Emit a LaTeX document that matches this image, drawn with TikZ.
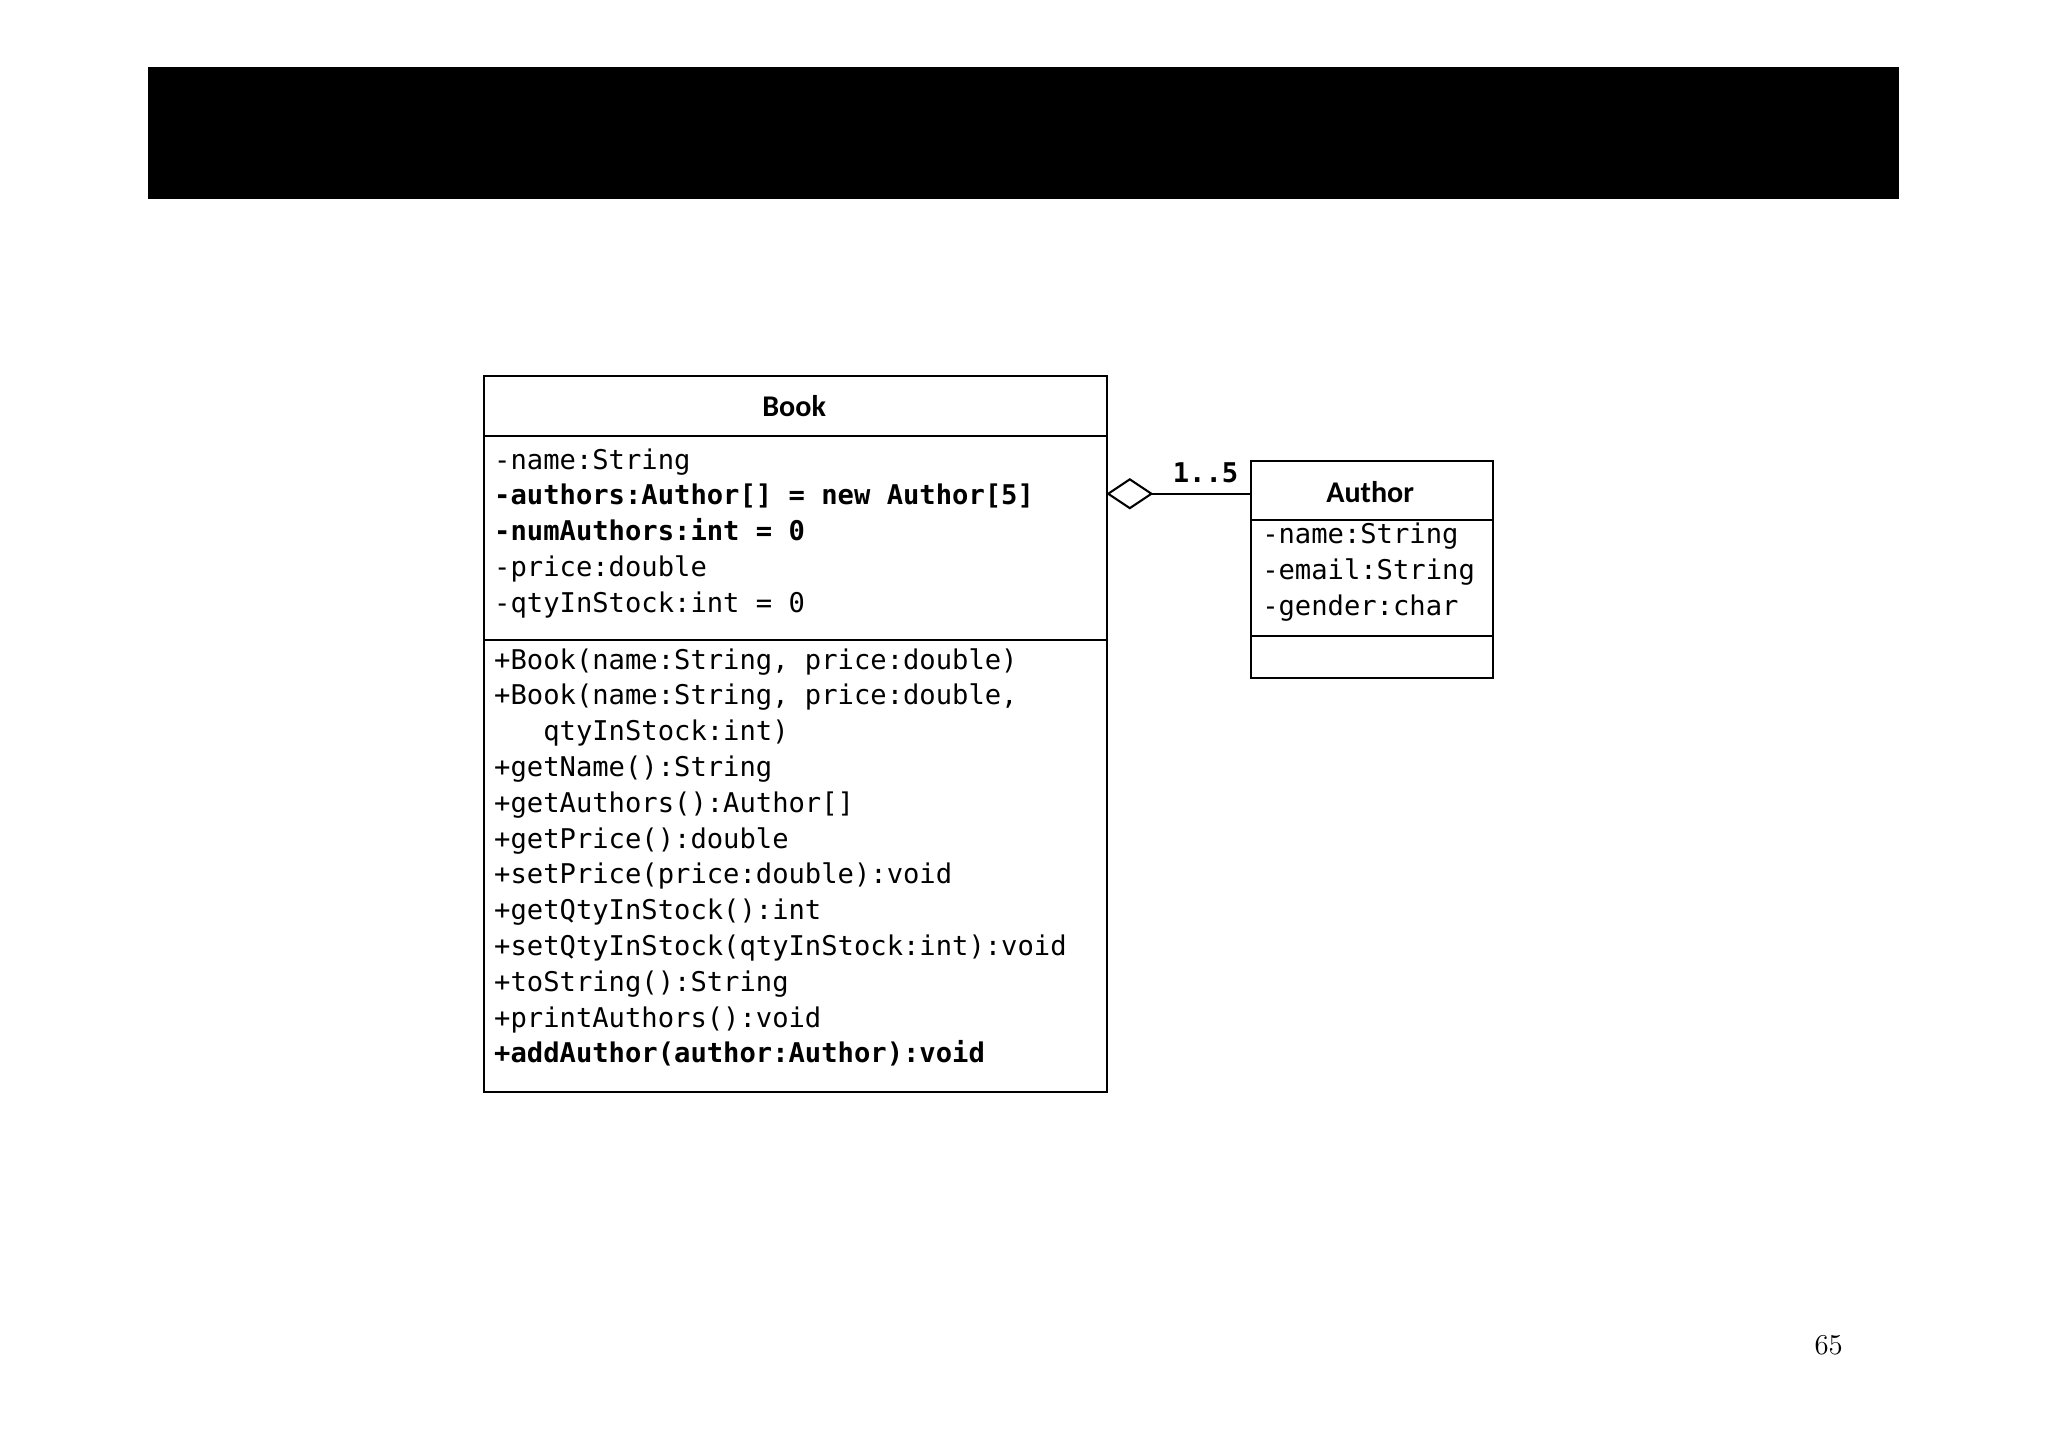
\documentclass[tikz,border=0pt]{standalone}
\usepackage{fontspec}
\setmonofont{DejaVu Sans Mono}
\newfontfamily\titlefont{Carlito}
\usetikzlibrary{arrows.meta,positioning}
\tikzset{
    class-box/.style = {draw=black, thick, rectangle, inner sep=0pt, anchor=north west},
    class-title/.style = {font=\titlefont\bfseries\fontsize{11.5}{13}\selectfont},
    member-list/.style = {anchor=north west, inner sep=0pt, align=left,
        font=\ttfamily\fontsize{10.4}{13.7}\selectfont},
}
\begin{document}
\begin{tikzpicture}[x=0.5pt,y=-0.5pt]
\useasboundingbox (0,0) rectangle (1568,1107);
\fill[black] (113,51) rectangle (1454,152);
% Book class
\node[class-box, minimum width=238.5pt, minimum height=274pt] (book) at (370,287) {};
\node[class-title] (book-title) at (608,311) {Book};
\draw[thick] (370,334) -- (847,334);
\draw[thick] (370,490) -- (847,490);
\node[member-list] (book-attrs) at (378,343) {-name:String\\
    \textbf{-authors:Author[] = new Author[5]}\\
    \textbf{-numAuthors:int = 0}\\
    -price:double\\
    -qtyInStock:int = 0};
\node[member-list] (book-ops) at (378,496) {+Book(name:String, price:double)\\
    +Book(name:String, price:double,\\
    \ \ \ qtyInStock:int)\\
    +getName():String\\
    +getAuthors():Author[]\\
    +getPrice():double\\
    +setPrice(price:double):void\\
    +getQtyInStock():int\\
    +setQtyInStock(qtyInStock:int):void\\
    +toString():String\\
    +printAuthors():void\\
    \textbf{+addAuthor(author:Author):void}};
% Author class
\node[class-box, minimum width=92.5pt, minimum height=83pt] (author) at (957,352) {};
\node[class-title] (author-title) at (1049,377) {Author};
\draw[thick] (957,398) -- (1142,398);
\draw[thick] (957,487) -- (1142,487);
\node[member-list] (author-attrs) at (966,400) {-name:String\\
    -email:String\\
    -gender:char};
% aggregation
\coordinate (agg-end) at (847,378);
\coordinate (agg-start) at (957,378);
\draw[thick, {Diamond[open, length=18pt, width=12pt]}-] (agg-end) -- (agg-start);
\node[font=\ttfamily\bfseries\fontsize{10.4}{12}\selectfont] (mult) at (923,362) {1..5};
\node[font=\fontsize{11}{13}\selectfont] (page) at (1400,1030) {65};
\end{tikzpicture}
\end{document}
